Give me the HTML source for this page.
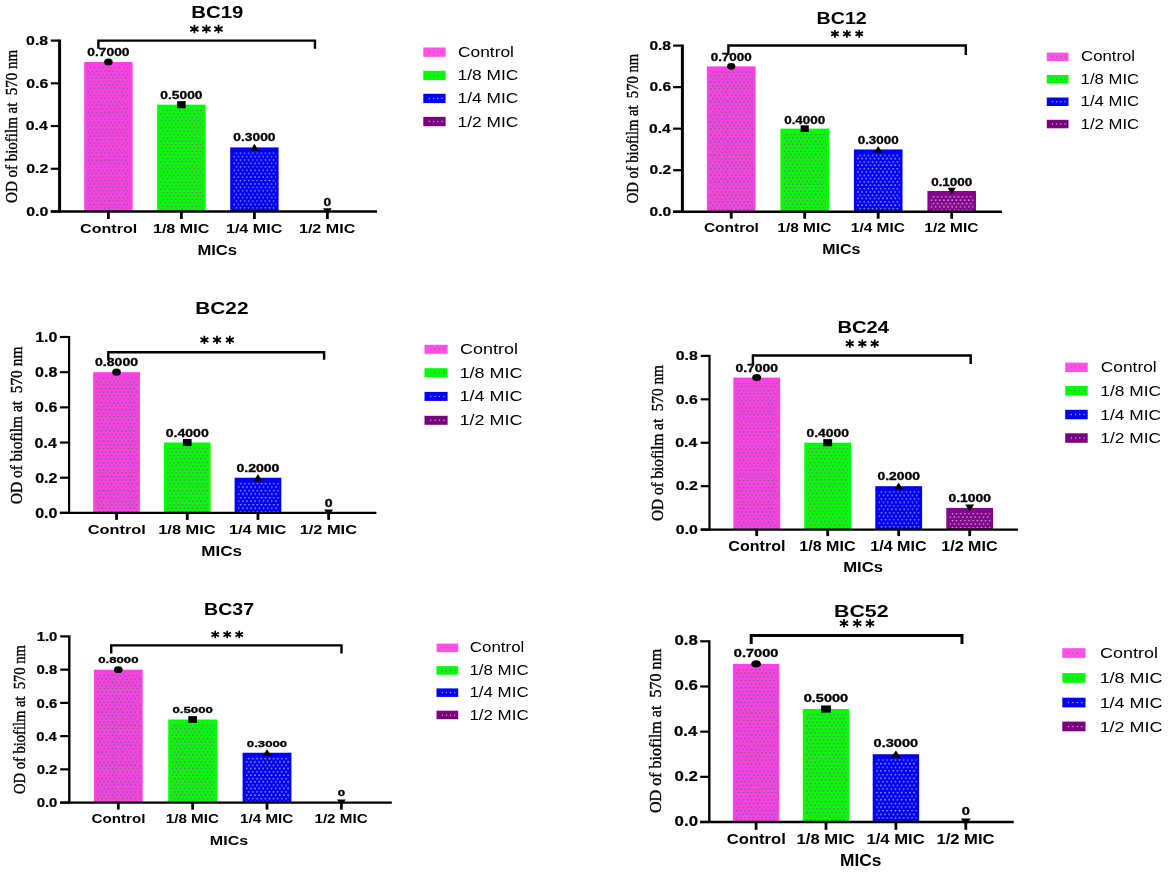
<!DOCTYPE html>
<html><head><meta charset="utf-8"><title>Biofilm charts</title>
<style>html,body{margin:0;padding:0;background:#fff;width:1169px;height:872px;overflow:hidden}svg{display:block;will-change:transform}</style>
</head><body>
<svg width="1169" height="872" viewBox="0 0 1169 872">
<defs><pattern id="p0_0" patternUnits="userSpaceOnUse" x="88.3" y="67.16" width="4.14" height="6.84"><circle cx="2.07" cy="0.6" r="0.8" fill="#5a7a5a"/><circle cx="0.0" cy="4.02" r="0.8" fill="#5a7a5a"/><circle cx="4.14" cy="4.02" r="0.8" fill="#5a7a5a"/></pattern><pattern id="p0_1" patternUnits="userSpaceOnUse" x="161.3" y="109.89" width="4.14" height="6.84"><circle cx="2.07" cy="0.6" r="0.8" fill="#9a5aa0"/><circle cx="0.0" cy="4.02" r="0.8" fill="#9a5aa0"/><circle cx="4.14" cy="4.02" r="0.8" fill="#9a5aa0"/></pattern><pattern id="p0_2" patternUnits="userSpaceOnUse" x="234.3" y="152.61" width="4.14" height="6.84"><circle cx="2.07" cy="0.6" r="0.8" fill="#a8a8d8"/><circle cx="0.0" cy="4.02" r="0.8" fill="#a8a8d8"/><circle cx="4.14" cy="4.02" r="0.8" fill="#a8a8d8"/></pattern><pattern id="p0_3" patternUnits="userSpaceOnUse" x="307.3" y="216.7" width="4.14" height="6.84"><circle cx="2.07" cy="0.6" r="0.8" fill="#b0c0b0"/><circle cx="0.0" cy="4.02" r="0.8" fill="#b0c0b0"/><circle cx="4.14" cy="4.02" r="0.8" fill="#b0c0b0"/></pattern><pattern id="p1_0" patternUnits="userSpaceOnUse" x="711" y="71.57" width="4.14" height="6.65"><circle cx="2.07" cy="0.6" r="0.8" fill="#5a7a5a"/><circle cx="0.0" cy="3.92" r="0.8" fill="#5a7a5a"/><circle cx="4.14" cy="3.92" r="0.8" fill="#5a7a5a"/></pattern><pattern id="p1_1" patternUnits="userSpaceOnUse" x="784.5" y="133.88" width="4.14" height="6.65"><circle cx="2.07" cy="0.6" r="0.8" fill="#9a5aa0"/><circle cx="0.0" cy="3.92" r="0.8" fill="#9a5aa0"/><circle cx="4.14" cy="3.92" r="0.8" fill="#9a5aa0"/></pattern><pattern id="p1_2" patternUnits="userSpaceOnUse" x="858" y="154.64" width="4.14" height="6.65"><circle cx="2.07" cy="0.6" r="0.8" fill="#a8a8d8"/><circle cx="0.0" cy="3.92" r="0.8" fill="#a8a8d8"/><circle cx="4.14" cy="3.92" r="0.8" fill="#a8a8d8"/></pattern><pattern id="p1_3" patternUnits="userSpaceOnUse" x="931.5" y="196.18" width="4.14" height="6.65"><circle cx="2.07" cy="0.6" r="0.8" fill="#b0c0b0"/><circle cx="0.0" cy="3.92" r="0.8" fill="#b0c0b0"/><circle cx="4.14" cy="3.92" r="0.8" fill="#b0c0b0"/></pattern><pattern id="p2_0" patternUnits="userSpaceOnUse" x="97.3" y="377.38" width="4.14" height="7.04"><circle cx="2.07" cy="0.6" r="0.8" fill="#5a7a5a"/><circle cx="0.0" cy="4.12" r="0.8" fill="#5a7a5a"/><circle cx="4.14" cy="4.12" r="0.8" fill="#5a7a5a"/></pattern><pattern id="p2_1" patternUnits="userSpaceOnUse" x="168" y="447.74" width="4.14" height="7.04"><circle cx="2.07" cy="0.6" r="0.8" fill="#9a5aa0"/><circle cx="0.0" cy="4.12" r="0.8" fill="#9a5aa0"/><circle cx="4.14" cy="4.12" r="0.8" fill="#9a5aa0"/></pattern><pattern id="p2_2" patternUnits="userSpaceOnUse" x="238.7" y="482.92" width="4.14" height="7.04"><circle cx="2.07" cy="0.6" r="0.8" fill="#a8a8d8"/><circle cx="0.0" cy="4.12" r="0.8" fill="#a8a8d8"/><circle cx="4.14" cy="4.12" r="0.8" fill="#a8a8d8"/></pattern><pattern id="p2_3" patternUnits="userSpaceOnUse" x="309.4" y="518.1" width="4.14" height="7.04"><circle cx="2.07" cy="0.6" r="0.8" fill="#b0c0b0"/><circle cx="0.0" cy="4.12" r="0.8" fill="#b0c0b0"/><circle cx="4.14" cy="4.12" r="0.8" fill="#b0c0b0"/></pattern><pattern id="p3_0" patternUnits="userSpaceOnUse" x="737.4" y="382.81" width="4.14" height="6.95"><circle cx="2.07" cy="0.6" r="0.8" fill="#5a7a5a"/><circle cx="0.0" cy="4.07" r="0.8" fill="#5a7a5a"/><circle cx="4.14" cy="4.07" r="0.8" fill="#5a7a5a"/></pattern><pattern id="p3_1" patternUnits="userSpaceOnUse" x="808.4" y="447.95" width="4.14" height="6.95"><circle cx="2.07" cy="0.6" r="0.8" fill="#9a5aa0"/><circle cx="0.0" cy="4.07" r="0.8" fill="#9a5aa0"/><circle cx="4.14" cy="4.07" r="0.8" fill="#9a5aa0"/></pattern><pattern id="p3_2" patternUnits="userSpaceOnUse" x="879.4" y="491.38" width="4.14" height="6.95"><circle cx="2.07" cy="0.6" r="0.8" fill="#a8a8d8"/><circle cx="0.0" cy="4.07" r="0.8" fill="#a8a8d8"/><circle cx="4.14" cy="4.07" r="0.8" fill="#a8a8d8"/></pattern><pattern id="p3_3" patternUnits="userSpaceOnUse" x="950.4" y="513.09" width="4.14" height="6.95"><circle cx="2.07" cy="0.6" r="0.8" fill="#b0c0b0"/><circle cx="0.0" cy="4.07" r="0.8" fill="#b0c0b0"/><circle cx="4.14" cy="4.07" r="0.8" fill="#b0c0b0"/></pattern><pattern id="p4_0" patternUnits="userSpaceOnUse" x="98" y="674.84" width="4.14" height="6.65"><circle cx="2.07" cy="0.6" r="0.8" fill="#5a7a5a"/><circle cx="0.0" cy="3.93" r="0.8" fill="#5a7a5a"/><circle cx="4.14" cy="3.93" r="0.8" fill="#5a7a5a"/></pattern><pattern id="p4_1" patternUnits="userSpaceOnUse" x="172.35" y="724.7" width="4.14" height="6.65"><circle cx="2.07" cy="0.6" r="0.8" fill="#9a5aa0"/><circle cx="0.0" cy="3.93" r="0.8" fill="#9a5aa0"/><circle cx="4.14" cy="3.93" r="0.8" fill="#9a5aa0"/></pattern><pattern id="p4_2" patternUnits="userSpaceOnUse" x="246.7" y="757.94" width="4.14" height="6.65"><circle cx="2.07" cy="0.6" r="0.8" fill="#a8a8d8"/><circle cx="0.0" cy="3.93" r="0.8" fill="#a8a8d8"/><circle cx="4.14" cy="3.93" r="0.8" fill="#a8a8d8"/></pattern><pattern id="p4_3" patternUnits="userSpaceOnUse" x="321.05" y="807.8" width="4.14" height="6.65"><circle cx="2.07" cy="0.6" r="0.8" fill="#b0c0b0"/><circle cx="0.0" cy="3.93" r="0.8" fill="#b0c0b0"/><circle cx="4.14" cy="3.93" r="0.8" fill="#b0c0b0"/></pattern><pattern id="p5_0" patternUnits="userSpaceOnUse" x="737" y="669.09" width="4.14" height="7.23"><circle cx="2.07" cy="0.6" r="0.8" fill="#5a7a5a"/><circle cx="0.0" cy="4.21" r="0.8" fill="#5a7a5a"/><circle cx="4.14" cy="4.21" r="0.8" fill="#5a7a5a"/></pattern><pattern id="p5_1" patternUnits="userSpaceOnUse" x="806.9" y="714.26" width="4.14" height="7.23"><circle cx="2.07" cy="0.6" r="0.8" fill="#9a5aa0"/><circle cx="0.0" cy="4.21" r="0.8" fill="#9a5aa0"/><circle cx="4.14" cy="4.21" r="0.8" fill="#9a5aa0"/></pattern><pattern id="p5_2" patternUnits="userSpaceOnUse" x="876.8" y="759.44" width="4.14" height="7.23"><circle cx="2.07" cy="0.6" r="0.8" fill="#a8a8d8"/><circle cx="0.0" cy="4.21" r="0.8" fill="#a8a8d8"/><circle cx="4.14" cy="4.21" r="0.8" fill="#a8a8d8"/></pattern><pattern id="p5_3" patternUnits="userSpaceOnUse" x="946.7" y="827.2" width="4.14" height="7.23"><circle cx="2.07" cy="0.6" r="0.8" fill="#b0c0b0"/><circle cx="0.0" cy="4.21" r="0.8" fill="#b0c0b0"/><circle cx="4.14" cy="4.21" r="0.8" fill="#b0c0b0"/></pattern></defs>
<rect width="1169" height="872" fill="#fff"/>
<rect x="84.2" y="61.96" width="48.4" height="149.54" fill="#ff40e8"/>
<rect x="87" y="65.76" width="43.2" height="144.94" fill="url(#p0_0)"/>
<rect x="157.2" y="104.69" width="48.4" height="106.81" fill="#00ff00"/>
<rect x="160" y="108.49" width="43.2" height="102.21" fill="url(#p0_1)"/>
<rect x="230.2" y="147.41" width="48.4" height="64.09" fill="#0000f5"/>
<rect x="233" y="151.21" width="43.2" height="59.49" fill="url(#p0_2)"/>
<path d="M59.6 39.6V212.5" stroke="#000" stroke-width="3"/>
<path d="M50.8 211.5H377" stroke="#000" stroke-width="2.3"/>
<path d="M50.8 211.5H59.6" stroke="#000" stroke-width="2.2"/>
<text transform="translate(26.23,215.7) scale(1.1819,1)" font-family="Liberation Sans" font-weight="bold" font-size="13.46" stroke="#000" stroke-width="0.2" xml:space="preserve">0.0</text>
<path d="M50.8 168.78H59.6" stroke="#000" stroke-width="2.2"/>
<text transform="translate(26.22,172.97) scale(1.1819,1)" font-family="Liberation Sans" font-weight="bold" font-size="13.46" stroke="#000" stroke-width="0.2" xml:space="preserve">0.2</text>
<path d="M50.8 126.05H59.6" stroke="#000" stroke-width="2.2"/>
<text transform="translate(25.67,130.25) scale(1.1819,1)" font-family="Liberation Sans" font-weight="bold" font-size="13.46" stroke="#000" stroke-width="0.2" xml:space="preserve">0.4</text>
<path d="M50.8 83.32H59.6" stroke="#000" stroke-width="2.2"/>
<text transform="translate(26.16,87.52) scale(1.1819,1)" font-family="Liberation Sans" font-weight="bold" font-size="13.46" stroke="#000" stroke-width="0.2" xml:space="preserve">0.6</text>
<path d="M50.8 40.6H59.6" stroke="#000" stroke-width="2.2"/>
<text transform="translate(26.07,44.8) scale(1.1819,1)" font-family="Liberation Sans" font-weight="bold" font-size="13.46" stroke="#000" stroke-width="0.2" xml:space="preserve">0.8</text>
<path d="M108.4 211.5V219" stroke="#000" stroke-width="2.8"/>
<text transform="translate(80.04,232.7) scale(1.2674,1)" font-family="Liberation Sans" font-weight="bold" font-size="12.7" xml:space="preserve">Control</text>
<text transform="translate(87.3,56.01) scale(1.2849,1)" font-family="Liberation Sans" font-weight="bold" font-size="10.74" stroke="#000" stroke-width="0.3" xml:space="preserve">0.7000</text>
<ellipse cx="108.4" cy="61.96" rx="4.25" ry="3.55"/>
<path d="M181.4 211.5V219" stroke="#000" stroke-width="2.8"/>
<text transform="translate(152.95,232.7) scale(1.2674,1)" font-family="Liberation Sans" font-weight="bold" font-size="12.7" xml:space="preserve">1/8 MIC</text>
<text transform="translate(160.3,98.74) scale(1.2849,1)" font-family="Liberation Sans" font-weight="bold" font-size="10.74" stroke="#000" stroke-width="0.3" xml:space="preserve">0.5000</text>
<rect x="177.15" y="101.14" width="8.5" height="7.1"/>
<path d="M254.4 211.5V219" stroke="#000" stroke-width="2.8"/>
<text transform="translate(225.95,232.7) scale(1.2674,1)" font-family="Liberation Sans" font-weight="bold" font-size="12.7" xml:space="preserve">1/4 MIC</text>
<text transform="translate(233.3,141.46) scale(1.2849,1)" font-family="Liberation Sans" font-weight="bold" font-size="10.74" stroke="#000" stroke-width="0.3" xml:space="preserve">0.3000</text>
<path d="M250.15 150.78L258.65 150.78L254.4 143.69Z"/>
<path d="M327.4 211.5V219" stroke="#000" stroke-width="2.8"/>
<text transform="translate(298.95,232.7) scale(1.2674,1)" font-family="Liberation Sans" font-weight="bold" font-size="12.7" xml:space="preserve">1/2 MIC</text>
<text transform="translate(323.57,205.55) scale(1.2849,1)" font-family="Liberation Sans" font-weight="bold" font-size="10.74" stroke="#000" stroke-width="0.3" xml:space="preserve">0</text>
<path d="M323.15 208.13L331.65 208.13L327.4 215.23Z"/>
<path d="M98.4 48.8V40.6H315V48.8" stroke="#000" stroke-width="2.4" fill="none" stroke-linejoin="miter"/>
<path d="M194.4 24.75L194.4 33.25M190.28 26.88L198.52 31.12M190.28 31.12L198.52 26.88" stroke="#000" stroke-width="1.7" stroke-linecap="butt" fill="none"/><circle cx="194.4" cy="29" r="1.36"/>
<path d="M206.4 24.75L206.4 33.25M202.28 26.88L210.52 31.12M202.28 31.12L210.52 26.88" stroke="#000" stroke-width="1.7" stroke-linecap="butt" fill="none"/><circle cx="206.4" cy="29" r="1.36"/>
<path d="M218.5 24.75L218.5 33.25M214.38 26.88L222.62 31.12M214.38 31.12L222.62 26.88" stroke="#000" stroke-width="1.7" stroke-linecap="butt" fill="none"/><circle cx="218.5" cy="29" r="1.36"/>
<text transform="translate(191.34,18.3) scale(1.2271,1)" font-family="Liberation Sans" font-weight="bold" font-size="16.61" xml:space="preserve">BC19</text>
<text transform="translate(197.39,254.7) scale(1.1718,1)" font-family="Liberation Sans" font-weight="bold" font-size="14.18" xml:space="preserve">MICs</text>
<text transform="translate(16.63,202.91) rotate(-90) scale(1,1.1317)" font-family="Liberation Serif" font-weight="normal" font-size="14.99" stroke="#000" stroke-width="0.35" xml:space="preserve">OD of biofilm at  570 nm</text>
<rect x="423.3" y="47.5" width="22.3" height="9.3" fill="#ff50e8"/>
<circle cx="429.32" cy="52.15" r="0.7" fill="#5a7a5a"/>
<circle cx="433.56" cy="52.15" r="0.7" fill="#5a7a5a"/>
<circle cx="437.8" cy="52.15" r="0.7" fill="#5a7a5a"/>
<circle cx="442.03" cy="52.15" r="0.7" fill="#5a7a5a"/>
<text transform="translate(458.02,57.1) scale(1.2214,1)" font-family="Liberation Sans" font-weight="normal" font-size="14.21" xml:space="preserve">Control</text>
<rect x="423.3" y="70.8" width="22.3" height="9.3" fill="#00ff00"/>
<circle cx="429.32" cy="75.45" r="0.7" fill="#9a5aa0"/>
<circle cx="433.56" cy="75.45" r="0.7" fill="#9a5aa0"/>
<circle cx="437.8" cy="75.45" r="0.7" fill="#9a5aa0"/>
<circle cx="442.03" cy="75.45" r="0.7" fill="#9a5aa0"/>
<text transform="translate(457.58,80.4) scale(1.2214,1)" font-family="Liberation Sans" font-weight="normal" font-size="14.21" xml:space="preserve">1/8 MIC</text>
<rect x="423.3" y="93.8" width="22.3" height="9.3" fill="#0000f5"/>
<circle cx="429.32" cy="98.45" r="0.7" fill="#a8a8d8"/>
<circle cx="433.56" cy="98.45" r="0.7" fill="#a8a8d8"/>
<circle cx="437.8" cy="98.45" r="0.7" fill="#a8a8d8"/>
<circle cx="442.03" cy="98.45" r="0.7" fill="#a8a8d8"/>
<text transform="translate(457.58,103.4) scale(1.2214,1)" font-family="Liberation Sans" font-weight="normal" font-size="14.21" xml:space="preserve">1/4 MIC</text>
<rect x="423.3" y="116.9" width="22.3" height="9.3" fill="#7a0080"/>
<circle cx="429.32" cy="121.55" r="0.7" fill="#b0c0b0"/>
<circle cx="433.56" cy="121.55" r="0.7" fill="#b0c0b0"/>
<circle cx="437.8" cy="121.55" r="0.7" fill="#b0c0b0"/>
<circle cx="442.03" cy="121.55" r="0.7" fill="#b0c0b0"/>
<text transform="translate(457.58,126.5) scale(1.2214,1)" font-family="Liberation Sans" font-weight="normal" font-size="14.21" xml:space="preserve">1/2 MIC</text>
<rect x="706.9" y="66.37" width="48.6" height="145.38" fill="#ff40e8"/>
<rect x="709.7" y="70.17" width="43.4" height="140.78" fill="url(#p1_0)"/>
<rect x="780.4" y="128.68" width="48.6" height="83.07" fill="#00ff00"/>
<rect x="783.2" y="132.48" width="43.4" height="78.47" fill="url(#p1_1)"/>
<rect x="853.9" y="149.44" width="48.6" height="62.31" fill="#0000f5"/>
<rect x="856.7" y="153.24" width="43.4" height="57.71" fill="url(#p1_2)"/>
<rect x="927.4" y="190.98" width="48.6" height="20.77" fill="#880090"/>
<rect x="930.2" y="194.78" width="43.4" height="16.17" fill="url(#p1_3)"/>
<path d="M682.4 44.6V212.75" stroke="#000" stroke-width="3"/>
<path d="M673.1 211.75H1001.9" stroke="#000" stroke-width="2.3"/>
<path d="M673.1 211.75H682.4" stroke="#000" stroke-width="2.2"/>
<text transform="translate(649.54,215.85) scale(1.2466,1)" font-family="Liberation Sans" font-weight="bold" font-size="12.46" stroke="#000" stroke-width="0.2" xml:space="preserve">0.0</text>
<path d="M673.1 170.21H682.4" stroke="#000" stroke-width="2.2"/>
<text transform="translate(649.53,174.31) scale(1.2466,1)" font-family="Liberation Sans" font-weight="bold" font-size="12.46" stroke="#000" stroke-width="0.2" xml:space="preserve">0.2</text>
<path d="M673.1 128.68H682.4" stroke="#000" stroke-width="2.2"/>
<text transform="translate(648.99,132.78) scale(1.2466,1)" font-family="Liberation Sans" font-weight="bold" font-size="12.46" stroke="#000" stroke-width="0.2" xml:space="preserve">0.4</text>
<path d="M673.1 87.14H682.4" stroke="#000" stroke-width="2.2"/>
<text transform="translate(649.47,91.24) scale(1.2466,1)" font-family="Liberation Sans" font-weight="bold" font-size="12.46" stroke="#000" stroke-width="0.2" xml:space="preserve">0.6</text>
<path d="M673.1 45.6H682.4" stroke="#000" stroke-width="2.2"/>
<text transform="translate(649.39,49.7) scale(1.2466,1)" font-family="Liberation Sans" font-weight="bold" font-size="12.46" stroke="#000" stroke-width="0.2" xml:space="preserve">0.8</text>
<path d="M731.2 211.75V218.75" stroke="#000" stroke-width="2.8"/>
<text transform="translate(703.92,232.1) scale(1.1808,1)" font-family="Liberation Sans" font-weight="bold" font-size="13.11" xml:space="preserve">Control</text>
<text transform="translate(710.67,61.32) scale(1.2180,1)" font-family="Liberation Sans" font-weight="bold" font-size="11.03" stroke="#000" stroke-width="0.3" xml:space="preserve">0.7000</text>
<ellipse cx="731.2" cy="66.37" rx="4.1" ry="3.35"/>
<path d="M804.7 211.75V218.75" stroke="#000" stroke-width="2.8"/>
<text transform="translate(777.32,232.1) scale(1.1808,1)" font-family="Liberation Sans" font-weight="bold" font-size="13.11" xml:space="preserve">1/8 MIC</text>
<text transform="translate(784.17,123.63) scale(1.2180,1)" font-family="Liberation Sans" font-weight="bold" font-size="11.03" stroke="#000" stroke-width="0.3" xml:space="preserve">0.4000</text>
<rect x="800.6" y="125.33" width="8.2" height="6.7"/>
<path d="M878.2 211.75V218.75" stroke="#000" stroke-width="2.8"/>
<text transform="translate(850.82,232.1) scale(1.1808,1)" font-family="Liberation Sans" font-weight="bold" font-size="13.11" xml:space="preserve">1/4 MIC</text>
<text transform="translate(857.67,144.39) scale(1.2180,1)" font-family="Liberation Sans" font-weight="bold" font-size="11.03" stroke="#000" stroke-width="0.3" xml:space="preserve">0.3000</text>
<path d="M874.1 152.63L882.3 152.63L878.2 145.93Z"/>
<path d="M951.7 211.75V218.75" stroke="#000" stroke-width="2.8"/>
<text transform="translate(924.32,232.1) scale(1.1808,1)" font-family="Liberation Sans" font-weight="bold" font-size="13.11" xml:space="preserve">1/2 MIC</text>
<text transform="translate(931.17,185.93) scale(1.2180,1)" font-family="Liberation Sans" font-weight="bold" font-size="11.03" stroke="#000" stroke-width="0.3" xml:space="preserve">0.1000</text>
<path d="M947.6 187.8L955.8 187.8L951.7 194.5Z"/>
<path d="M728.4 55V45.5H965.8V55" stroke="#000" stroke-width="2.4" fill="none" stroke-linejoin="miter"/>
<path d="M834.9 29.95L834.9 37.65M831.17 31.87L838.63 35.72M831.17 35.72L838.63 31.87" stroke="#000" stroke-width="1.7" stroke-linecap="butt" fill="none"/><circle cx="834.9" cy="33.8" r="1.23"/>
<path d="M846.9 29.95L846.9 37.65M843.17 31.87L850.63 35.72M843.17 35.72L850.63 31.87" stroke="#000" stroke-width="1.7" stroke-linecap="butt" fill="none"/><circle cx="846.9" cy="33.8" r="1.23"/>
<path d="M859.2 29.95L859.2 37.65M855.47 31.87L862.93 35.72M855.47 35.72L862.93 31.87" stroke="#000" stroke-width="1.7" stroke-linecap="butt" fill="none"/><circle cx="859.2" cy="33.8" r="1.23"/>
<text transform="translate(816.59,23.5) scale(1.2241,1)" font-family="Liberation Sans" font-weight="bold" font-size="16.04" xml:space="preserve">BC12</text>
<text transform="translate(822.23,253.7) scale(1.0817,1)" font-family="Liberation Sans" font-weight="bold" font-size="14.75" xml:space="preserve">MICs</text>
<text transform="translate(638.04,203.3) rotate(-90) scale(1,1.0995)" font-family="Liberation Serif" font-weight="normal" font-size="14.62" stroke="#000" stroke-width="0.35" xml:space="preserve">OD of biofilm at  570 nm</text>
<rect x="1046.8" y="52.6" width="21.7" height="8.5" fill="#ff50e8"/>
<circle cx="1052.66" cy="56.85" r="0.7" fill="#5a7a5a"/>
<circle cx="1056.78" cy="56.85" r="0.7" fill="#5a7a5a"/>
<circle cx="1060.9" cy="56.85" r="0.7" fill="#5a7a5a"/>
<circle cx="1065.03" cy="56.85" r="0.7" fill="#5a7a5a"/>
<text transform="translate(1081.05,61.4) scale(1.1778,1)" font-family="Liberation Sans" font-weight="normal" font-size="14.21" xml:space="preserve">Control</text>
<rect x="1046.8" y="75" width="21.7" height="8.5" fill="#00ff00"/>
<circle cx="1052.66" cy="79.25" r="0.7" fill="#9a5aa0"/>
<circle cx="1056.78" cy="79.25" r="0.7" fill="#9a5aa0"/>
<circle cx="1060.9" cy="79.25" r="0.7" fill="#9a5aa0"/>
<circle cx="1065.03" cy="79.25" r="0.7" fill="#9a5aa0"/>
<text transform="translate(1080.62,83.8) scale(1.1778,1)" font-family="Liberation Sans" font-weight="normal" font-size="14.21" xml:space="preserve">1/8 MIC</text>
<rect x="1046.8" y="97.5" width="21.7" height="8.5" fill="#0000f5"/>
<circle cx="1052.66" cy="101.75" r="0.7" fill="#a8a8d8"/>
<circle cx="1056.78" cy="101.75" r="0.7" fill="#a8a8d8"/>
<circle cx="1060.9" cy="101.75" r="0.7" fill="#a8a8d8"/>
<circle cx="1065.03" cy="101.75" r="0.7" fill="#a8a8d8"/>
<text transform="translate(1080.62,106.3) scale(1.1778,1)" font-family="Liberation Sans" font-weight="normal" font-size="14.21" xml:space="preserve">1/4 MIC</text>
<rect x="1046.8" y="119.8" width="21.7" height="8.5" fill="#7a0080"/>
<circle cx="1052.66" cy="124.05" r="0.7" fill="#b0c0b0"/>
<circle cx="1056.78" cy="124.05" r="0.7" fill="#b0c0b0"/>
<circle cx="1060.9" cy="124.05" r="0.7" fill="#b0c0b0"/>
<circle cx="1065.03" cy="124.05" r="0.7" fill="#b0c0b0"/>
<text transform="translate(1080.62,128.6) scale(1.1778,1)" font-family="Liberation Sans" font-weight="normal" font-size="14.21" xml:space="preserve">1/2 MIC</text>
<rect x="93.2" y="372.18" width="46.7" height="140.72" fill="#ff40e8"/>
<rect x="96" y="375.98" width="41.5" height="136.12" fill="url(#p2_0)"/>
<rect x="163.9" y="442.54" width="46.7" height="70.36" fill="#00ff00"/>
<rect x="166.7" y="446.34" width="41.5" height="65.76" fill="url(#p2_1)"/>
<rect x="234.6" y="477.72" width="46.7" height="35.18" fill="#0000f5"/>
<rect x="237.4" y="481.52" width="41.5" height="30.58" fill="url(#p2_2)"/>
<path d="M69.1 336V513.9" stroke="#000" stroke-width="2.2"/>
<path d="M59.9 512.9H376.4" stroke="#000" stroke-width="2.2"/>
<path d="M59.9 512.9H69.1" stroke="#000" stroke-width="2.2"/>
<text transform="translate(35.19,518) scale(1.1412,1)" font-family="Liberation Sans" font-weight="bold" font-size="14.04" stroke="#000" stroke-width="0.2" xml:space="preserve">0.0</text>
<path d="M59.9 477.72H69.1" stroke="#000" stroke-width="2.2"/>
<text transform="translate(35.18,482.82) scale(1.1412,1)" font-family="Liberation Sans" font-weight="bold" font-size="14.04" stroke="#000" stroke-width="0.2" xml:space="preserve">0.2</text>
<path d="M59.9 442.54H69.1" stroke="#000" stroke-width="2.2"/>
<text transform="translate(34.62,447.64) scale(1.1412,1)" font-family="Liberation Sans" font-weight="bold" font-size="14.04" stroke="#000" stroke-width="0.2" xml:space="preserve">0.4</text>
<path d="M59.9 407.36H69.1" stroke="#000" stroke-width="2.2"/>
<text transform="translate(35.11,412.46) scale(1.1412,1)" font-family="Liberation Sans" font-weight="bold" font-size="14.04" stroke="#000" stroke-width="0.2" xml:space="preserve">0.6</text>
<path d="M59.9 372.18H69.1" stroke="#000" stroke-width="2.2"/>
<text transform="translate(35.03,377.28) scale(1.1412,1)" font-family="Liberation Sans" font-weight="bold" font-size="14.04" stroke="#000" stroke-width="0.2" xml:space="preserve">0.8</text>
<path d="M59.9 337H69.1" stroke="#000" stroke-width="2.2"/>
<text transform="translate(35.19,342.1) scale(1.1412,1)" font-family="Liberation Sans" font-weight="bold" font-size="14.04" stroke="#000" stroke-width="0.2" xml:space="preserve">1.0</text>
<path d="M116.55 512.9V519.9" stroke="#000" stroke-width="2.8"/>
<text transform="translate(87.63,534.3) scale(1.2011,1)" font-family="Liberation Sans" font-weight="bold" font-size="13.66" xml:space="preserve">Control</text>
<text transform="translate(95.04,366.43) scale(1.3099,1)" font-family="Liberation Sans" font-weight="bold" font-size="10.74" stroke="#000" stroke-width="0.3" xml:space="preserve">0.8000</text>
<ellipse cx="116.55" cy="372.18" rx="4.35" ry="3.6"/>
<path d="M187.25 512.9V519.9" stroke="#000" stroke-width="2.8"/>
<text transform="translate(158.23,534.3) scale(1.2011,1)" font-family="Liberation Sans" font-weight="bold" font-size="13.66" xml:space="preserve">1/8 MIC</text>
<text transform="translate(165.74,436.79) scale(1.3099,1)" font-family="Liberation Sans" font-weight="bold" font-size="10.74" stroke="#000" stroke-width="0.3" xml:space="preserve">0.4000</text>
<rect x="182.9" y="438.94" width="8.7" height="7.2"/>
<path d="M257.95 512.9V519.9" stroke="#000" stroke-width="2.8"/>
<text transform="translate(228.93,534.3) scale(1.2011,1)" font-family="Liberation Sans" font-weight="bold" font-size="13.66" xml:space="preserve">1/4 MIC</text>
<text transform="translate(236.44,471.97) scale(1.3099,1)" font-family="Liberation Sans" font-weight="bold" font-size="10.74" stroke="#000" stroke-width="0.3" xml:space="preserve">0.2000</text>
<path d="M253.6 481.14L262.3 481.14L257.95 473.94Z"/>
<path d="M328.65 512.9V519.9" stroke="#000" stroke-width="2.8"/>
<text transform="translate(299.63,534.3) scale(1.2011,1)" font-family="Liberation Sans" font-weight="bold" font-size="13.66" xml:space="preserve">1/2 MIC</text>
<text transform="translate(324.75,507.15) scale(1.3099,1)" font-family="Liberation Sans" font-weight="bold" font-size="10.74" stroke="#000" stroke-width="0.3" xml:space="preserve">0</text>
<path d="M324.3 509.48L333 509.48L328.65 516.68Z"/>
<path d="M108.3 359.8V352.2H324.1V359.8" stroke="#000" stroke-width="2.4" fill="none" stroke-linejoin="miter"/>
<path d="M204.4 335.85L204.4 343.95M200.47 337.88L208.33 341.92M200.47 341.92L208.33 337.88" stroke="#000" stroke-width="1.7" stroke-linecap="butt" fill="none"/><circle cx="204.4" cy="339.9" r="1.3"/>
<path d="M217 335.85L217 343.95M213.07 337.88L220.93 341.92M213.07 341.92L220.93 337.88" stroke="#000" stroke-width="1.7" stroke-linecap="butt" fill="none"/><circle cx="217" cy="339.9" r="1.3"/>
<path d="M229.8 335.85L229.8 343.95M225.87 337.88L233.73 341.92M225.87 341.92L233.73 337.88" stroke="#000" stroke-width="1.7" stroke-linecap="butt" fill="none"/><circle cx="229.8" cy="339.9" r="1.3"/>
<text transform="translate(195.31,313.9) scale(1.2532,1)" font-family="Liberation Sans" font-weight="bold" font-size="16.61" xml:space="preserve">BC22</text>
<text transform="translate(201.16,556.1) scale(1.1589,1)" font-family="Liberation Sans" font-weight="bold" font-size="14.75" xml:space="preserve">MICs</text>
<text transform="translate(22.13,504.13) rotate(-90) scale(1,1.1392)" font-family="Liberation Serif" font-weight="normal" font-size="15.42" stroke="#000" stroke-width="0.35" xml:space="preserve">OD of biofilm at  570 nm</text>
<rect x="424.5" y="344.8" width="23.1" height="9" fill="#ff50e8"/>
<circle cx="430.74" cy="349.3" r="0.7" fill="#5a7a5a"/>
<circle cx="435.13" cy="349.3" r="0.7" fill="#5a7a5a"/>
<circle cx="439.51" cy="349.3" r="0.7" fill="#5a7a5a"/>
<circle cx="443.9" cy="349.3" r="0.7" fill="#5a7a5a"/>
<text transform="translate(459.99,354.1) scale(1.2671,1)" font-family="Liberation Sans" font-weight="normal" font-size="14.21" xml:space="preserve">Control</text>
<rect x="424.5" y="368.2" width="23.1" height="9" fill="#00ff00"/>
<circle cx="430.74" cy="372.7" r="0.7" fill="#9a5aa0"/>
<circle cx="435.13" cy="372.7" r="0.7" fill="#9a5aa0"/>
<circle cx="439.51" cy="372.7" r="0.7" fill="#9a5aa0"/>
<circle cx="443.9" cy="372.7" r="0.7" fill="#9a5aa0"/>
<text transform="translate(459.53,377.5) scale(1.2671,1)" font-family="Liberation Sans" font-weight="normal" font-size="14.21" xml:space="preserve">1/8 MIC</text>
<rect x="424.5" y="391.9" width="23.1" height="9" fill="#0000f5"/>
<circle cx="430.74" cy="396.4" r="0.7" fill="#a8a8d8"/>
<circle cx="435.13" cy="396.4" r="0.7" fill="#a8a8d8"/>
<circle cx="439.51" cy="396.4" r="0.7" fill="#a8a8d8"/>
<circle cx="443.9" cy="396.4" r="0.7" fill="#a8a8d8"/>
<text transform="translate(459.53,401.2) scale(1.2671,1)" font-family="Liberation Sans" font-weight="normal" font-size="14.21" xml:space="preserve">1/4 MIC</text>
<rect x="424.5" y="415.8" width="23.1" height="9" fill="#7a0080"/>
<circle cx="430.74" cy="420.3" r="0.7" fill="#b0c0b0"/>
<circle cx="435.13" cy="420.3" r="0.7" fill="#b0c0b0"/>
<circle cx="439.51" cy="420.3" r="0.7" fill="#b0c0b0"/>
<circle cx="443.9" cy="420.3" r="0.7" fill="#b0c0b0"/>
<text transform="translate(459.53,425.1) scale(1.2671,1)" font-family="Liberation Sans" font-weight="normal" font-size="14.21" xml:space="preserve">1/2 MIC</text>
<rect x="733.3" y="377.61" width="46.8" height="151.99" fill="#ff40e8"/>
<rect x="736.1" y="381.41" width="41.6" height="147.39" fill="url(#p3_0)"/>
<rect x="804.3" y="442.75" width="46.8" height="86.85" fill="#00ff00"/>
<rect x="807.1" y="446.55" width="41.6" height="82.25" fill="url(#p3_1)"/>
<rect x="875.3" y="486.18" width="46.8" height="43.43" fill="#0000f5"/>
<rect x="878.1" y="489.98" width="41.6" height="38.83" fill="url(#p3_2)"/>
<rect x="946.3" y="507.89" width="46.8" height="21.71" fill="#880090"/>
<rect x="949.1" y="511.69" width="41.6" height="17.11" fill="url(#p3_3)"/>
<path d="M709.5 354.9V530.6" stroke="#000" stroke-width="2.2"/>
<path d="M700.7 529.6H1018" stroke="#000" stroke-width="2.1"/>
<path d="M700.7 529.6H709.5" stroke="#000" stroke-width="2.2"/>
<text transform="translate(675.83,533.9) scale(1.2076,1)" font-family="Liberation Sans" font-weight="bold" font-size="13.18" stroke="#000" stroke-width="0.2" xml:space="preserve">0.0</text>
<path d="M700.7 486.18H709.5" stroke="#000" stroke-width="2.2"/>
<text transform="translate(675.82,490.48) scale(1.2076,1)" font-family="Liberation Sans" font-weight="bold" font-size="13.18" stroke="#000" stroke-width="0.2" xml:space="preserve">0.2</text>
<path d="M700.7 442.75H709.5" stroke="#000" stroke-width="2.2"/>
<text transform="translate(675.27,447.05) scale(1.2076,1)" font-family="Liberation Sans" font-weight="bold" font-size="13.18" stroke="#000" stroke-width="0.2" xml:space="preserve">0.4</text>
<path d="M700.7 399.32H709.5" stroke="#000" stroke-width="2.2"/>
<text transform="translate(675.76,403.62) scale(1.2076,1)" font-family="Liberation Sans" font-weight="bold" font-size="13.18" stroke="#000" stroke-width="0.2" xml:space="preserve">0.6</text>
<path d="M700.7 355.9H709.5" stroke="#000" stroke-width="2.2"/>
<text transform="translate(675.67,360.2) scale(1.2076,1)" font-family="Liberation Sans" font-weight="bold" font-size="13.18" stroke="#000" stroke-width="0.2" xml:space="preserve">0.8</text>
<path d="M756.7 529.6V536.1" stroke="#000" stroke-width="2.8"/>
<text transform="translate(728.34,550.5) scale(1.1660,1)" font-family="Liberation Sans" font-weight="bold" font-size="13.8" xml:space="preserve">Control</text>
<text transform="translate(735.45,371.56) scale(1.3867,1)" font-family="Liberation Sans" font-weight="bold" font-size="10.03" stroke="#000" stroke-width="0.3" xml:space="preserve">0.7000</text>
<ellipse cx="756.7" cy="377.61" rx="4.45" ry="3.6"/>
<path d="M827.7 529.6V536.1" stroke="#000" stroke-width="2.8"/>
<text transform="translate(799.25,550.5) scale(1.1660,1)" font-family="Liberation Sans" font-weight="bold" font-size="13.8" xml:space="preserve">1/8 MIC</text>
<text transform="translate(806.45,436.7) scale(1.3867,1)" font-family="Liberation Sans" font-weight="bold" font-size="10.03" stroke="#000" stroke-width="0.3" xml:space="preserve">0.4000</text>
<rect x="823.25" y="439.15" width="8.9" height="7.2"/>
<path d="M898.7 529.6V536.1" stroke="#000" stroke-width="2.8"/>
<text transform="translate(870.25,550.5) scale(1.1660,1)" font-family="Liberation Sans" font-weight="bold" font-size="13.8" xml:space="preserve">1/4 MIC</text>
<text transform="translate(877.45,480.12) scale(1.3867,1)" font-family="Liberation Sans" font-weight="bold" font-size="10.03" stroke="#000" stroke-width="0.3" xml:space="preserve">0.2000</text>
<path d="M894.25 489.6L903.15 489.6L898.7 482.4Z"/>
<path d="M969.7 529.6V536.1" stroke="#000" stroke-width="2.8"/>
<text transform="translate(941.25,550.5) scale(1.1660,1)" font-family="Liberation Sans" font-weight="bold" font-size="13.8" xml:space="preserve">1/2 MIC</text>
<text transform="translate(948.45,501.84) scale(1.3867,1)" font-family="Liberation Sans" font-weight="bold" font-size="10.03" stroke="#000" stroke-width="0.3" xml:space="preserve">0.1000</text>
<path d="M965.25 504.47L974.15 504.47L969.7 511.67Z"/>
<path d="M752.9 364V355.5H970.7V364" stroke="#000" stroke-width="2.4" fill="none" stroke-linejoin="miter"/>
<path d="M849.8 339.55L849.8 347.65M845.87 341.58L853.73 345.62M845.87 345.62L853.73 341.58" stroke="#000" stroke-width="1.7" stroke-linecap="butt" fill="none"/><circle cx="849.8" cy="343.6" r="1.3"/>
<path d="M862.3 339.55L862.3 347.65M858.37 341.58L866.23 345.62M858.37 345.62L866.23 341.58" stroke="#000" stroke-width="1.7" stroke-linecap="butt" fill="none"/><circle cx="862.3" cy="343.6" r="1.3"/>
<path d="M874.7 339.55L874.7 347.65M870.77 341.58L878.63 345.62M870.77 345.62L878.63 341.58" stroke="#000" stroke-width="1.7" stroke-linecap="butt" fill="none"/><circle cx="874.7" cy="343.6" r="1.3"/>
<text transform="translate(837.45,332.6) scale(1.2486,1)" font-family="Liberation Sans" font-weight="bold" font-size="16.18" xml:space="preserve">BC24</text>
<text transform="translate(843.29,571.6) scale(1.1373,1)" font-family="Liberation Sans" font-weight="bold" font-size="14.61" xml:space="preserve">MICs</text>
<text transform="translate(663.24,520.93) rotate(-90) scale(1,1.0827)" font-family="Liberation Serif" font-weight="normal" font-size="15.26" stroke="#000" stroke-width="0.35" xml:space="preserve">OD of biofilm at  570 nm</text>
<rect x="1065.2" y="362.6" width="22.5" height="9.5" fill="#ff50e8"/>
<circle cx="1071.28" cy="367.35" r="0.7" fill="#5a7a5a"/>
<circle cx="1075.55" cy="367.35" r="0.7" fill="#5a7a5a"/>
<circle cx="1079.83" cy="367.35" r="0.7" fill="#5a7a5a"/>
<circle cx="1084.1" cy="367.35" r="0.7" fill="#5a7a5a"/>
<text transform="translate(1100.72,372.4) scale(1.2214,1)" font-family="Liberation Sans" font-weight="normal" font-size="14.21" xml:space="preserve">Control</text>
<rect x="1065.2" y="386" width="22.5" height="9.5" fill="#00ff00"/>
<circle cx="1071.28" cy="390.75" r="0.7" fill="#9a5aa0"/>
<circle cx="1075.55" cy="390.75" r="0.7" fill="#9a5aa0"/>
<circle cx="1079.83" cy="390.75" r="0.7" fill="#9a5aa0"/>
<circle cx="1084.1" cy="390.75" r="0.7" fill="#9a5aa0"/>
<text transform="translate(1100.28,395.8) scale(1.2214,1)" font-family="Liberation Sans" font-weight="normal" font-size="14.21" xml:space="preserve">1/8 MIC</text>
<rect x="1065.2" y="409.8" width="22.5" height="9.5" fill="#0000f5"/>
<circle cx="1071.28" cy="414.55" r="0.7" fill="#a8a8d8"/>
<circle cx="1075.55" cy="414.55" r="0.7" fill="#a8a8d8"/>
<circle cx="1079.83" cy="414.55" r="0.7" fill="#a8a8d8"/>
<circle cx="1084.1" cy="414.55" r="0.7" fill="#a8a8d8"/>
<text transform="translate(1100.28,419.6) scale(1.2214,1)" font-family="Liberation Sans" font-weight="normal" font-size="14.21" xml:space="preserve">1/4 MIC</text>
<rect x="1065.2" y="433.3" width="22.5" height="9.5" fill="#7a0080"/>
<circle cx="1071.28" cy="438.05" r="0.7" fill="#b0c0b0"/>
<circle cx="1075.55" cy="438.05" r="0.7" fill="#b0c0b0"/>
<circle cx="1079.83" cy="438.05" r="0.7" fill="#b0c0b0"/>
<circle cx="1084.1" cy="438.05" r="0.7" fill="#b0c0b0"/>
<text transform="translate(1100.28,443.1) scale(1.2214,1)" font-family="Liberation Sans" font-weight="normal" font-size="14.21" xml:space="preserve">1/2 MIC</text>
<rect x="93.9" y="669.64" width="48.8" height="132.96" fill="#ff40e8"/>
<rect x="96.7" y="673.44" width="43.6" height="128.36" fill="url(#p4_0)"/>
<rect x="168.25" y="719.5" width="48.8" height="83.1" fill="#00ff00"/>
<rect x="171.05" y="723.3" width="43.6" height="78.5" fill="url(#p4_1)"/>
<rect x="242.6" y="752.74" width="48.8" height="49.86" fill="#0000f5"/>
<rect x="245.4" y="756.54" width="43.6" height="45.26" fill="url(#p4_2)"/>
<path d="M69.3 635.4V803.6" stroke="#000" stroke-width="2.4"/>
<path d="M60.2 802.6H391.8" stroke="#000" stroke-width="2.3"/>
<path d="M60.2 802.6H69.3" stroke="#000" stroke-width="2.2"/>
<text transform="translate(36.66,807.3) scale(1.1089,1)" font-family="Liberation Sans" font-weight="bold" font-size="13.46" stroke="#000" stroke-width="0.2" xml:space="preserve">0.0</text>
<path d="M60.2 769.36H69.3" stroke="#000" stroke-width="2.2"/>
<text transform="translate(36.65,774.06) scale(1.1089,1)" font-family="Liberation Sans" font-weight="bold" font-size="13.46" stroke="#000" stroke-width="0.2" xml:space="preserve">0.2</text>
<path d="M60.2 736.12H69.3" stroke="#000" stroke-width="2.2"/>
<text transform="translate(36.13,740.82) scale(1.1089,1)" font-family="Liberation Sans" font-weight="bold" font-size="13.46" stroke="#000" stroke-width="0.2" xml:space="preserve">0.4</text>
<path d="M60.2 702.88H69.3" stroke="#000" stroke-width="2.2"/>
<text transform="translate(36.59,707.58) scale(1.1089,1)" font-family="Liberation Sans" font-weight="bold" font-size="13.46" stroke="#000" stroke-width="0.2" xml:space="preserve">0.6</text>
<path d="M60.2 669.64H69.3" stroke="#000" stroke-width="2.2"/>
<text transform="translate(36.51,674.34) scale(1.1089,1)" font-family="Liberation Sans" font-weight="bold" font-size="13.46" stroke="#000" stroke-width="0.2" xml:space="preserve">0.8</text>
<path d="M60.2 636.4H69.3" stroke="#000" stroke-width="2.2"/>
<text transform="translate(36.66,641.1) scale(1.1089,1)" font-family="Liberation Sans" font-weight="bold" font-size="13.46" stroke="#000" stroke-width="0.2" xml:space="preserve">1.0</text>
<path d="M118.3 802.6V809.6" stroke="#000" stroke-width="2.8"/>
<text transform="translate(91.48,823.2) scale(1.2119,1)" font-family="Liberation Sans" font-weight="bold" font-size="12.56" xml:space="preserve">Control</text>
<text transform="translate(98.13,663.49) scale(1.5106,1)" font-family="Liberation Sans" font-weight="bold" font-size="8.74" stroke="#000" stroke-width="0.3" xml:space="preserve">0.8000</text>
<ellipse cx="118.3" cy="669.64" rx="4.35" ry="3.35"/>
<path d="M192.65 802.6V809.6" stroke="#000" stroke-width="2.8"/>
<text transform="translate(165.74,823.2) scale(1.2119,1)" font-family="Liberation Sans" font-weight="bold" font-size="12.56" xml:space="preserve">1/8 MIC</text>
<text transform="translate(172.48,713.35) scale(1.5106,1)" font-family="Liberation Sans" font-weight="bold" font-size="8.74" stroke="#000" stroke-width="0.3" xml:space="preserve">0.5000</text>
<rect x="188.3" y="716.15" width="8.7" height="6.7"/>
<path d="M267 802.6V809.6" stroke="#000" stroke-width="2.8"/>
<text transform="translate(240.09,823.2) scale(1.2119,1)" font-family="Liberation Sans" font-weight="bold" font-size="12.56" xml:space="preserve">1/4 MIC</text>
<text transform="translate(246.83,746.59) scale(1.5106,1)" font-family="Liberation Sans" font-weight="bold" font-size="8.74" stroke="#000" stroke-width="0.3" xml:space="preserve">0.3000</text>
<path d="M262.65 755.92L271.35 755.92L267 749.22Z"/>
<path d="M341.35 802.6V809.6" stroke="#000" stroke-width="2.8"/>
<text transform="translate(314.44,823.2) scale(1.2119,1)" font-family="Liberation Sans" font-weight="bold" font-size="12.56" xml:space="preserve">1/2 MIC</text>
<text transform="translate(337.69,796.45) scale(1.5106,1)" font-family="Liberation Sans" font-weight="bold" font-size="8.74" stroke="#000" stroke-width="0.3" xml:space="preserve">0</text>
<path d="M337 799.42L345.7 799.42L341.35 806.12Z"/>
<path d="M111.2 653.5V645.4H341.5V653.5" stroke="#000" stroke-width="2.4" fill="none" stroke-linejoin="miter"/>
<path d="M215.2 630.65L215.2 638.35M211.47 632.58L218.93 636.42M211.47 636.42L218.93 632.58" stroke="#000" stroke-width="1.7" stroke-linecap="butt" fill="none"/><circle cx="215.2" cy="634.5" r="1.23"/>
<path d="M227.2 630.65L227.2 638.35M223.47 632.58L230.93 636.42M223.47 636.42L230.93 632.58" stroke="#000" stroke-width="1.7" stroke-linecap="butt" fill="none"/><circle cx="227.2" cy="634.5" r="1.23"/>
<path d="M239.2 630.65L239.2 638.35M235.47 632.58L242.93 636.42M235.47 636.42L242.93 632.58" stroke="#000" stroke-width="1.7" stroke-linecap="butt" fill="none"/><circle cx="239.2" cy="634.5" r="1.23"/>
<text transform="translate(204.09,614.7) scale(1.1764,1)" font-family="Liberation Sans" font-weight="bold" font-size="16.61" xml:space="preserve">BC37</text>
<text transform="translate(209.83,844.6) scale(1.2310,1)" font-family="Liberation Sans" font-weight="bold" font-size="13.03" xml:space="preserve">MICs</text>
<text transform="translate(24.74,794) rotate(-90) scale(1,1.1433)" font-family="Liberation Serif" font-weight="normal" font-size="14.58" stroke="#000" stroke-width="0.35" xml:space="preserve">OD of biofilm at  570 nm</text>
<rect x="436.5" y="643.6" width="21.7" height="8.5" fill="#ff50e8"/>
<circle cx="442.36" cy="647.85" r="0.7" fill="#5a7a5a"/>
<circle cx="446.48" cy="647.85" r="0.7" fill="#5a7a5a"/>
<circle cx="450.61" cy="647.85" r="0.7" fill="#5a7a5a"/>
<circle cx="454.73" cy="647.85" r="0.7" fill="#5a7a5a"/>
<text transform="translate(469.84,652.4) scale(1.1903,1)" font-family="Liberation Sans" font-weight="normal" font-size="14.21" xml:space="preserve">Control</text>
<rect x="436.5" y="666.2" width="21.7" height="8.5" fill="#00ff00"/>
<circle cx="442.36" cy="670.45" r="0.7" fill="#9a5aa0"/>
<circle cx="446.48" cy="670.45" r="0.7" fill="#9a5aa0"/>
<circle cx="450.61" cy="670.45" r="0.7" fill="#9a5aa0"/>
<circle cx="454.73" cy="670.45" r="0.7" fill="#9a5aa0"/>
<text transform="translate(469.41,675) scale(1.1903,1)" font-family="Liberation Sans" font-weight="normal" font-size="14.21" xml:space="preserve">1/8 MIC</text>
<rect x="436.5" y="688.4" width="21.7" height="8.5" fill="#0000f5"/>
<circle cx="442.36" cy="692.65" r="0.7" fill="#a8a8d8"/>
<circle cx="446.48" cy="692.65" r="0.7" fill="#a8a8d8"/>
<circle cx="450.61" cy="692.65" r="0.7" fill="#a8a8d8"/>
<circle cx="454.73" cy="692.65" r="0.7" fill="#a8a8d8"/>
<text transform="translate(469.41,697.2) scale(1.1903,1)" font-family="Liberation Sans" font-weight="normal" font-size="14.21" xml:space="preserve">1/4 MIC</text>
<rect x="436.5" y="710.7" width="21.7" height="8.5" fill="#7a0080"/>
<circle cx="442.36" cy="714.95" r="0.7" fill="#b0c0b0"/>
<circle cx="446.48" cy="714.95" r="0.7" fill="#b0c0b0"/>
<circle cx="450.61" cy="714.95" r="0.7" fill="#b0c0b0"/>
<circle cx="454.73" cy="714.95" r="0.7" fill="#b0c0b0"/>
<text transform="translate(469.41,719.5) scale(1.1903,1)" font-family="Liberation Sans" font-weight="normal" font-size="14.21" xml:space="preserve">1/2 MIC</text>
<rect x="732.9" y="663.89" width="46.4" height="158.11" fill="#ff40e8"/>
<rect x="735.7" y="667.69" width="41.2" height="153.51" fill="url(#p5_0)"/>
<rect x="802.8" y="709.06" width="46.4" height="112.94" fill="#00ff00"/>
<rect x="805.6" y="712.86" width="41.2" height="108.34" fill="url(#p5_1)"/>
<rect x="872.7" y="754.24" width="46.4" height="67.76" fill="#0000f5"/>
<rect x="875.5" y="758.04" width="41.2" height="63.16" fill="url(#p5_2)"/>
<path d="M709.3 640.3V823" stroke="#000" stroke-width="2.4"/>
<path d="M700.2 822H1013.7" stroke="#000" stroke-width="2.3"/>
<path d="M700.2 822H709.3" stroke="#000" stroke-width="2.2"/>
<text transform="translate(674.61,825.9) scale(1.1984,1)" font-family="Liberation Sans" font-weight="bold" font-size="14.04" stroke="#000" stroke-width="0.2" xml:space="preserve">0.0</text>
<path d="M700.2 776.83H709.3" stroke="#000" stroke-width="2.2"/>
<text transform="translate(674.59,780.73) scale(1.1984,1)" font-family="Liberation Sans" font-weight="bold" font-size="14.04" stroke="#000" stroke-width="0.2" xml:space="preserve">0.2</text>
<path d="M700.2 731.65H709.3" stroke="#000" stroke-width="2.2"/>
<text transform="translate(674.01,735.55) scale(1.1984,1)" font-family="Liberation Sans" font-weight="bold" font-size="14.04" stroke="#000" stroke-width="0.2" xml:space="preserve">0.4</text>
<path d="M700.2 686.47H709.3" stroke="#000" stroke-width="2.2"/>
<text transform="translate(674.53,690.37) scale(1.1984,1)" font-family="Liberation Sans" font-weight="bold" font-size="14.04" stroke="#000" stroke-width="0.2" xml:space="preserve">0.6</text>
<path d="M700.2 641.3H709.3" stroke="#000" stroke-width="2.2"/>
<text transform="translate(674.43,645.2) scale(1.1984,1)" font-family="Liberation Sans" font-weight="bold" font-size="14.04" stroke="#000" stroke-width="0.2" xml:space="preserve">0.8</text>
<path d="M756.1 822V829.8" stroke="#000" stroke-width="2.8"/>
<text transform="translate(726.82,844.2) scale(1.1357,1)" font-family="Liberation Sans" font-weight="bold" font-size="14.63" xml:space="preserve">Control</text>
<text transform="translate(733.82,657.04) scale(1.3939,1)" font-family="Liberation Sans" font-weight="bold" font-size="10.45" stroke="#000" stroke-width="0.3" xml:space="preserve">0.7000</text>
<ellipse cx="756.1" cy="663.89" rx="4.9" ry="3.6"/>
<path d="M826 822V829.8" stroke="#000" stroke-width="2.8"/>
<text transform="translate(796.62,844.2) scale(1.1357,1)" font-family="Liberation Sans" font-weight="bold" font-size="14.63" xml:space="preserve">1/8 MIC</text>
<text transform="translate(803.72,702.21) scale(1.3939,1)" font-family="Liberation Sans" font-weight="bold" font-size="10.45" stroke="#000" stroke-width="0.3" xml:space="preserve">0.5000</text>
<rect x="821.1" y="705.46" width="9.8" height="7.2"/>
<path d="M895.9 822V829.8" stroke="#000" stroke-width="2.8"/>
<text transform="translate(866.52,844.2) scale(1.1357,1)" font-family="Liberation Sans" font-weight="bold" font-size="14.63" xml:space="preserve">1/4 MIC</text>
<text transform="translate(873.62,747.39) scale(1.3939,1)" font-family="Liberation Sans" font-weight="bold" font-size="10.45" stroke="#000" stroke-width="0.3" xml:space="preserve">0.3000</text>
<path d="M891 757.66L900.8 757.66L895.9 750.46Z"/>
<path d="M965.8 822V829.8" stroke="#000" stroke-width="2.8"/>
<text transform="translate(936.42,844.2) scale(1.1357,1)" font-family="Liberation Sans" font-weight="bold" font-size="14.63" xml:space="preserve">1/2 MIC</text>
<text transform="translate(961.76,815.15) scale(1.3939,1)" font-family="Liberation Sans" font-weight="bold" font-size="10.45" stroke="#000" stroke-width="0.3" xml:space="preserve">0</text>
<path d="M960.9 818.58L970.7 818.58L965.8 825.78Z"/>
<path d="M751.2 643.9V635.4H962V643.9" stroke="#000" stroke-width="3.0" fill="none" stroke-linejoin="miter"/>
<path d="M844 619.05L844 627.55M839.88 621.17L848.12 625.42M839.88 625.42L848.12 621.17" stroke="#000" stroke-width="1.7" stroke-linecap="butt" fill="none"/><circle cx="844" cy="623.3" r="1.36"/>
<path d="M857.2 619.05L857.2 627.55M853.08 621.17L861.32 625.42M853.08 625.42L861.32 621.17" stroke="#000" stroke-width="1.7" stroke-linecap="butt" fill="none"/><circle cx="857.2" cy="623.3" r="1.36"/>
<path d="M870 619.05L870 627.55M865.88 621.17L874.12 625.42M865.88 625.42L874.12 621.17" stroke="#000" stroke-width="1.7" stroke-linecap="butt" fill="none"/><circle cx="870" cy="623.3" r="1.36"/>
<text transform="translate(833.97,616.7) scale(1.2423,1)" font-family="Liberation Sans" font-weight="bold" font-size="17.19" xml:space="preserve">BC52</text>
<text transform="translate(839.94,865.7) scale(1.1120,1)" font-family="Liberation Sans" font-weight="bold" font-size="15.61" xml:space="preserve">MICs</text>
<text transform="translate(661.33,813.06) rotate(-90) scale(1,1.0932)" font-family="Liberation Serif" font-weight="normal" font-size="16.07" stroke="#000" stroke-width="0.35" xml:space="preserve">OD of biofilm at  570 nm</text>
<rect x="1062.3" y="648.2" width="23.2" height="9.7" fill="#ff50e8"/>
<circle cx="1068.56" cy="653.05" r="0.7" fill="#5a7a5a"/>
<circle cx="1072.97" cy="653.05" r="0.7" fill="#5a7a5a"/>
<circle cx="1077.38" cy="653.05" r="0.7" fill="#5a7a5a"/>
<circle cx="1081.79" cy="653.05" r="0.7" fill="#5a7a5a"/>
<text transform="translate(1100.09,658.2) scale(1.2389,1)" font-family="Liberation Sans" font-weight="normal" font-size="14.49" xml:space="preserve">Control</text>
<rect x="1062.3" y="673.1" width="23.2" height="9.7" fill="#00ff00"/>
<circle cx="1068.56" cy="677.95" r="0.7" fill="#9a5aa0"/>
<circle cx="1072.97" cy="677.95" r="0.7" fill="#9a5aa0"/>
<circle cx="1077.38" cy="677.95" r="0.7" fill="#9a5aa0"/>
<circle cx="1081.79" cy="677.95" r="0.7" fill="#9a5aa0"/>
<text transform="translate(1099.63,683.1) scale(1.2389,1)" font-family="Liberation Sans" font-weight="normal" font-size="14.49" xml:space="preserve">1/8 MIC</text>
<rect x="1062.3" y="697.7" width="23.2" height="9.7" fill="#0000f5"/>
<circle cx="1068.56" cy="702.55" r="0.7" fill="#a8a8d8"/>
<circle cx="1072.97" cy="702.55" r="0.7" fill="#a8a8d8"/>
<circle cx="1077.38" cy="702.55" r="0.7" fill="#a8a8d8"/>
<circle cx="1081.79" cy="702.55" r="0.7" fill="#a8a8d8"/>
<text transform="translate(1099.63,707.7) scale(1.2389,1)" font-family="Liberation Sans" font-weight="normal" font-size="14.49" xml:space="preserve">1/4 MIC</text>
<rect x="1062.3" y="721.6" width="23.2" height="9.7" fill="#7a0080"/>
<circle cx="1068.56" cy="726.45" r="0.7" fill="#b0c0b0"/>
<circle cx="1072.97" cy="726.45" r="0.7" fill="#b0c0b0"/>
<circle cx="1077.38" cy="726.45" r="0.7" fill="#b0c0b0"/>
<circle cx="1081.79" cy="726.45" r="0.7" fill="#b0c0b0"/>
<text transform="translate(1099.63,731.6) scale(1.2389,1)" font-family="Liberation Sans" font-weight="normal" font-size="14.49" xml:space="preserve">1/2 MIC</text>
</svg>
</body></html>
